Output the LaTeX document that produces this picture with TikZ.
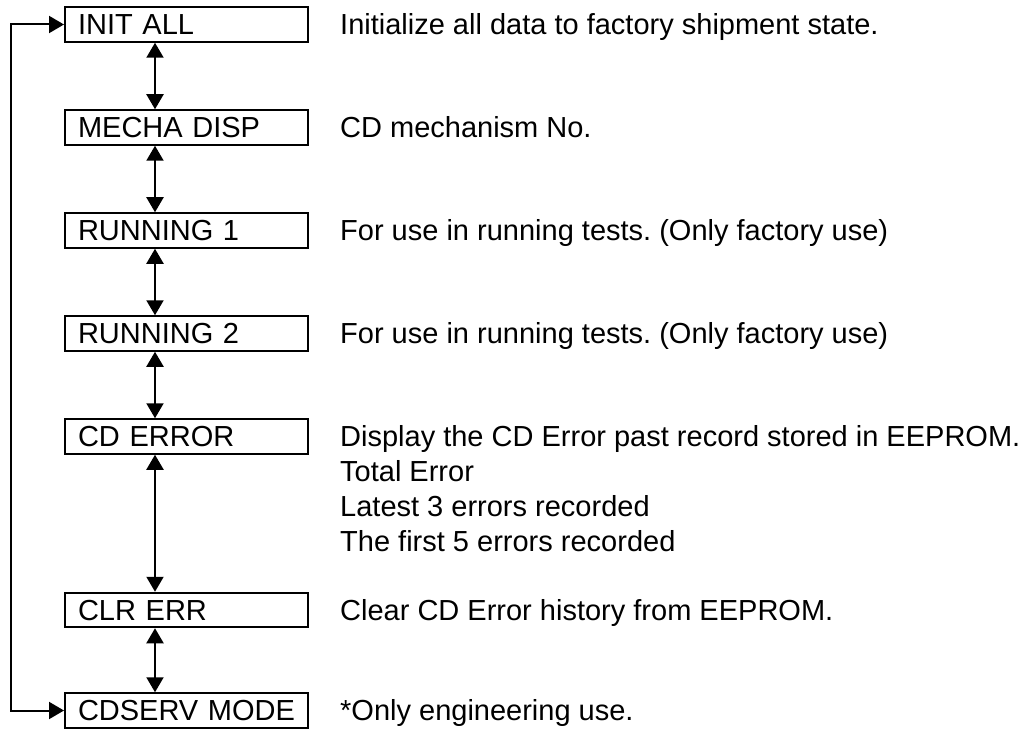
\documentclass[tikz,border=0pt]{standalone}
\usepackage{fontspec}
\setmainfont{Liberation Sans}
\usetikzlibrary{positioning,arrows.meta}
\frenchspacing

\tikzset{
  menubox/.style={draw, line width=2pt, minimum width=243pt, minimum height=34.5pt,
    text width=217pt, inner xsep=13pt, inner ysep=0pt, text height=20.8pt, text depth=0pt,
    align=left, font=\fontsize{29}{34.5}\selectfont},
  desc/.style={inner sep=0pt, text height=20.8pt, text depth=0pt,
    font=\fontsize{29}{34.5}\selectfont},
  link/.style={<->, line width=2pt, >={Triangle[length=15pt,width=17pt]}}
}

\begin{document}
\begin{tikzpicture}[x=1pt, y=-1pt]

\useasboundingbox (0,0) rectangle (1033,730);

% Menu boxes
\node[menubox] (init) at (186.5,24.5) {INIT ALL};
\node[menubox, below=66.5pt of init] (mecha) {MECHA DISP};
\node[menubox, below=66.5pt of mecha] (run1) {RUNNING 1};
\node[menubox, below=66.5pt of run1] (run2) {RUNNING 2};
\node[menubox, below=66.5pt of run2] (cderr) {CD ERROR};
\node[menubox, below=137pt of cderr] (clrerr) {CLR ERR};
\node[menubox, below=64pt of clrerr] (cdserv) {CDSERV MODE};

% Up/down arrows between boxes
\draw[link] ([xshift=-31.5pt]init.south) -- ([xshift=-31.5pt]mecha.north);
\draw[link] ([xshift=-31.5pt]mecha.south) -- ([xshift=-31.5pt]run1.north);
\draw[link] ([xshift=-31.5pt]run1.south) -- ([xshift=-31.5pt]run2.north);
\draw[link] ([xshift=-31.5pt]run2.south) -- ([xshift=-31.5pt]cderr.north);
\draw[link] ([xshift=-31.5pt]cderr.south) -- ([xshift=-31.5pt]clrerr.north);
\draw[link] ([xshift=-31.5pt]clrerr.south) -- ([xshift=-31.5pt]cdserv.north);

% Wrap-around loop
\draw[link] (init.west) -- ++(-53pt,0) |- (cdserv.west);

% Descriptions
\node[desc, right=31pt of init] (inittxt) {Initialize all data to factory shipment state.};
\node[desc, right=31pt of mecha] (mechatxt) {CD mechanism No.};
\node[desc, right=31pt of run1] (run1txt) {For use in running tests. (Only factory use)};
\node[desc, right=31pt of run2] (run2txt) {For use in running tests. (Only factory use)};
\node[desc, right=31pt of cderr] (errtxt) {Display the CD Error past record stored in EEPROM.};
\node[desc, below=13.7pt of errtxt.south west, anchor=north west] (errtotal) {Total Error};
\node[desc, below=13.7pt of errtotal.south west, anchor=north west] (errlast) {Latest 3 errors recorded};
\node[desc, below=13.7pt of errlast.south west, anchor=north west] (errfirst) {The first 5 errors recorded};
\node[desc, right=31pt of clrerr] (clrtxt) {Clear CD Error history from EEPROM.};
\node[desc, right=31pt of cdserv] (servtxt) {*Only engineering use.};

\end{tikzpicture}
\end{document}
